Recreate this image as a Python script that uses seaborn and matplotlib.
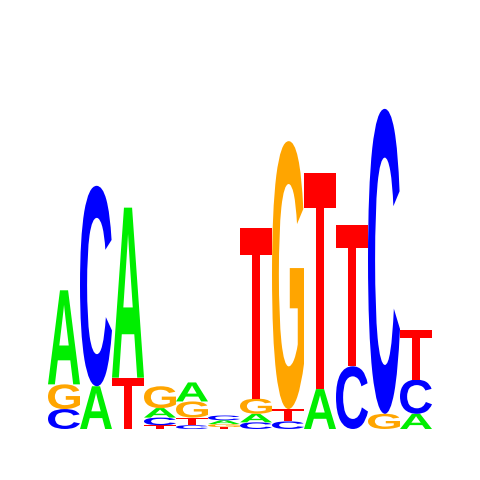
import numpy as np
import pandas as pd
import matplotlib
matplotlib.use("Agg")
import matplotlib.pyplot as plt
import seaborn as sns
from matplotlib.textpath import TextPath
from matplotlib.patches import PathPatch
from matplotlib.font_manager import FontProperties
from matplotlib.transforms import Affine2D

# wysokosci liter (bity) dla kazdej pozycji motywu
positions = list(range(1, 13))
bits_A = [0.495, 0.225, 0.895, 0.05, 0.10, 0.02, 0.045, 0.0, 0.21, 0.0, 0.0, 0.08]
bits_C = [0.105, 1.055, 0.0, 0.04, 0.02, 0.025, 0.035, 0.04, 0.0, 0.33, 1.605, 0.18]
bits_G = [0.13, 0.0, 0.0, 0.115, 0.085, 0.016, 0.08, 1.41, 0.0, 0.0, 0.08, 0.0]
bits_T = [0.0, 0.0, 0.27, 0.02, 0.04, 0.01, 0.90, 0.065, 1.14, 0.745, 0.0, 0.26]

kolory = {"A": "#00ee00", "C": "#0000ff", "G": "#ffa500", "T": "#ff0000"}

df = pd.DataFrame({"A": bits_A, "C": bits_C, "G": bits_G, "T": bits_T}, index=positions)

sns.set_theme(style="white")
fp = FontProperties(family=["Liberation Sans", "DejaVu Sans"], weight="bold")

fig = plt.figure(figsize=(4.8, 4.8), dpi=100)
ax = fig.add_axes([0.1, 51 / 480, 0.8, 380 / 480])


def rysuj_litere(ax, litera, x, y, w, h):
    tp = TextPath((0, 0), litera, size=1, prop=fp)
    ext = tp.get_extents()
    tr = (Affine2D()
          .translate(-ext.x0, -ext.y0)
          .scale(w / ext.width, h / ext.height)
          .translate(x, y))
    path = tr.transform_path(tp)
    ax.add_patch(PathPatch(path, facecolor=kolory[litera], edgecolor="none",
                           transform=ax.transData))


# litery ukladane od najmniejszej do najwiekszej
for pos, row in df.iterrows():
    y = 0.0
    for litera, h in row.sort_values().items():
        if h <= 0:
            continue
        rysuj_litere(ax, litera, pos - 0.5, y, 1.0, h)
        y += h

ax.set_xlim(0.5, 12.5)
ax.set_ylim(0, 2)
ax.axis("off")
sns.despine(left=True, bottom=True)

fig.savefig("out.png", dpi=100, facecolor="white")
